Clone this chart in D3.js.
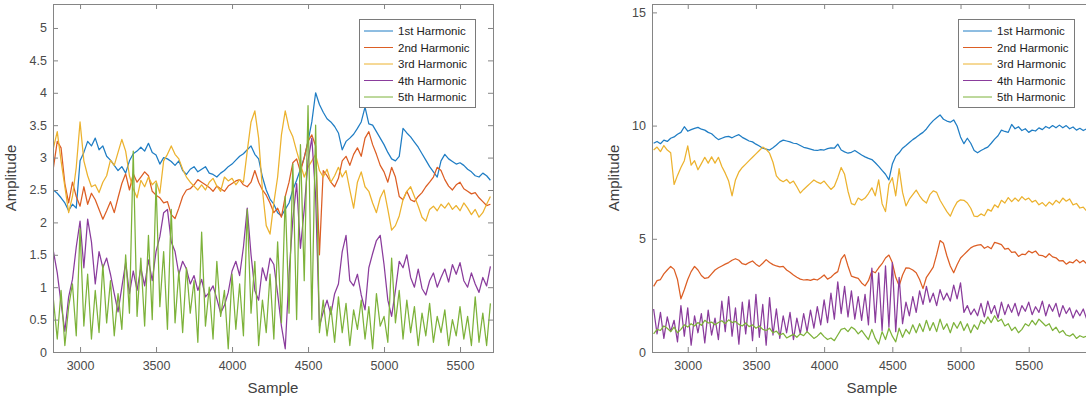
<!DOCTYPE html>
<html>
<head>
<meta charset="utf-8">
<script src="https://cdn.jsdelivr.net/npm/d3@7"></script>
<style>
  body { margin: 0; background: #fff; }
  svg { display: block; }
</style>
</head>
<body>
<div id="chart"></div>
<script>
const seriesNames = ["1st Harmonic", "2nd Harmonic", "3rd Harmonic", "4th Harmonic", "5th Harmonic"];
const seriesColors = ["#1f7dc4", "#dc5e24", "#ecb22e", "#8a3c9c", "#7db23a"];

// sample index, one value every 25 samples
const leftSamples = d3.range(2825, 5701, 25);
const rightSamples = d3.range(2750, 5951, 25);

const xTickValues = [3000, 3500, 4000, 4500, 5000, 5500];
const leftYTicks = [0, 0.5, 1, 1.5, 2, 2.5, 3, 3.5, 4, 4.5, 5];
const rightYTicks = [0, 5, 10, 15];

// left panel
const left1 = [
  2.50,2.45,2.38,2.30,2.18,2.28,2.22,2.95,
  3.08,3.25,3.18,3.30,3.12,3.18,3.02,2.96,
  2.88,2.80,2.86,2.76,2.95,3.06,3.10,3.16,
  3.10,3.22,3.08,3.04,2.90,3.00,2.98,2.94,
  2.88,2.95,2.80,2.74,2.82,2.86,2.78,2.82,
  2.86,2.76,2.74,2.70,2.76,2.80,2.86,2.90,
  2.96,3.02,3.06,3.12,3.18,3.05,2.98,2.70,
  2.50,2.36,2.28,2.15,2.10,2.20,2.30,2.50,
  2.65,2.82,3.00,3.25,3.55,4.00,3.82,3.70,
  3.60,3.55,3.48,3.38,3.12,3.25,3.30,3.36,
  3.45,3.55,3.78,3.52,3.50,3.40,3.30,3.20,
  3.08,2.98,2.95,3.02,3.45,3.38,3.32,3.24,
  3.16,3.06,2.96,2.86,2.78,2.70,2.95,3.05,
  2.98,2.94,2.90,2.92,2.88,2.82,2.78,2.72,
  2.70,2.76,2.72,2.65];
const left2 = [
  2.85,3.25,3.15,2.60,2.30,2.62,2.40,2.25,
  2.55,2.28,2.45,2.35,2.20,2.05,2.18,2.32,
  2.15,2.38,2.60,2.75,2.50,2.75,2.62,2.70,
  2.78,2.72,2.48,2.42,2.38,2.30,2.32,2.12,
  2.06,2.22,2.40,2.50,2.52,2.58,2.66,2.62,
  2.58,2.54,2.48,2.56,2.52,2.48,2.56,2.60,
  2.64,2.66,2.58,2.55,2.62,2.80,2.62,2.50,
  2.42,2.30,2.15,2.22,2.08,2.40,2.62,2.92,
  2.98,2.78,3.00,3.25,3.35,3.18,1.50,2.80,
  2.72,2.62,2.55,2.68,2.95,3.02,2.88,3.05,
  3.15,3.02,3.30,3.40,3.20,3.05,2.88,2.78,
  2.62,2.85,2.70,2.40,2.35,2.48,2.35,2.32,
  2.40,2.46,2.55,2.62,2.70,2.85,2.80,2.66,
  2.56,2.50,2.58,2.62,2.52,2.48,2.44,2.46,
  2.38,2.32,2.26,2.28];
const left3 = [
  3.15,3.40,2.95,2.55,2.15,2.40,2.85,3.55,
  2.95,2.72,2.55,2.58,2.46,2.62,2.72,2.96,
  2.88,3.08,3.28,3.10,2.72,2.52,2.38,2.65,
  2.55,2.70,2.58,2.64,2.45,2.95,3.05,3.18,
  3.05,2.98,2.82,2.70,2.62,2.56,2.50,2.58,
  2.50,2.62,2.68,2.56,2.48,2.70,2.64,2.68,
  2.58,2.66,2.62,3.10,3.55,3.72,3.30,2.50,
  1.95,1.82,2.30,2.70,3.35,3.72,3.45,3.32,
  3.10,2.90,2.70,2.85,2.95,3.05,2.80,2.70,
  2.82,2.62,2.72,2.85,2.70,2.80,2.50,2.22,
  2.62,2.78,2.55,2.48,2.30,2.15,2.38,2.50,
  2.20,1.88,1.95,2.10,2.35,2.48,2.55,2.40,
  2.25,2.08,2.02,2.20,2.25,2.18,2.28,2.22,
  2.30,2.20,2.26,2.18,2.30,2.22,2.12,2.20,
  2.08,2.15,2.28,2.40];
const left4 = [
  1.55,1.22,0.75,0.32,0.85,1.12,1.62,2.02,
  1.30,2.05,1.70,1.05,1.55,1.30,1.45,1.20,
  0.90,0.62,1.00,1.38,0.90,1.25,0.95,1.30,
  1.02,1.42,1.10,1.55,1.78,2.15,2.20,1.70,
  1.55,1.20,1.40,1.28,1.05,1.18,0.95,1.12,
  0.85,0.92,1.02,0.82,0.60,0.72,0.92,1.25,
  1.40,1.18,1.62,2.22,1.50,0.95,0.80,1.30,
  1.10,1.45,1.35,0.90,0.40,0.05,1.20,2.05,
  2.60,1.60,2.20,2.95,3.30,2.40,0.40,0.62,
  0.80,0.58,0.90,1.05,1.55,1.80,1.10,1.02,
  1.20,0.88,0.65,1.30,1.52,1.72,1.80,1.35,
  0.80,0.55,0.95,1.40,1.30,1.50,1.15,1.00,
  1.28,0.98,0.88,1.10,1.22,1.00,1.15,1.28,
  1.08,1.35,1.20,1.38,1.10,1.00,1.22,1.05,
  0.92,1.15,1.02,1.32];
const left5 = [
  0.80,0.20,0.95,0.10,0.70,1.05,0.25,1.90,
  0.40,1.20,0.20,0.95,0.30,1.35,0.45,1.10,
  0.25,0.90,0.35,1.50,0.60,3.10,0.55,1.45,
  0.40,1.80,0.50,2.60,0.70,1.55,0.35,2.20,
  0.45,1.25,0.30,1.30,0.60,1.10,0.15,1.85,
  0.40,1.00,0.20,1.40,0.55,0.95,0.05,1.20,
  0.35,1.05,0.25,2.20,0.60,1.40,0.10,0.80,
  0.30,1.20,0.20,1.70,0.45,2.40,0.60,2.90,
  0.50,3.20,1.10,3.80,0.50,3.50,0.30,0.80,
  0.25,0.70,0.15,0.85,0.30,0.75,0.10,0.65,
  0.35,0.80,0.20,0.70,0.05,0.90,0.40,0.55,
  0.15,1.45,0.45,0.95,0.20,0.80,0.30,0.70,
  0.10,0.60,0.25,0.75,0.15,0.55,0.30,0.65,
  0.10,0.50,0.25,0.70,0.20,0.55,0.10,0.85,
  0.15,0.60,0.10,0.75];

// right panel
const right1 = [
  9.22,9.30,9.20,9.36,9.30,9.44,9.50,9.62,
  9.70,9.95,9.75,9.82,9.88,9.92,9.84,9.80,
  9.70,9.64,9.50,9.38,9.44,9.50,9.52,9.46,
  9.54,9.60,9.48,9.40,9.32,9.28,9.18,9.10,
  9.00,8.96,8.92,9.02,9.14,9.28,9.36,9.32,
  9.28,9.22,9.20,9.12,9.04,9.00,8.96,8.92,
  8.90,8.94,8.92,8.98,9.02,9.00,9.18,8.92,
  8.84,8.78,8.82,8.90,8.80,8.70,8.62,8.55,
  8.50,8.36,8.20,8.02,7.85,7.60,8.30,8.65,
  8.80,9.00,9.12,9.25,9.38,9.48,9.60,9.70,
  9.85,10.05,10.22,10.35,10.47,10.28,10.20,10.15,
  10.25,9.98,9.50,9.20,9.44,9.22,8.90,8.80,
  8.90,8.98,9.05,9.22,9.40,9.55,9.80,9.74,
  9.70,10.05,9.86,9.95,9.78,9.86,9.70,9.80,
  9.76,9.90,9.82,9.96,9.88,10.00,9.90,10.02,
  9.90,10.00,9.86,9.94,9.80,9.88,9.78,9.86,
  9.82];
const right2 = [
  2.90,3.15,3.20,3.45,3.62,3.78,3.65,3.20,
  2.35,2.75,3.20,3.55,3.78,3.62,3.38,3.25,
  3.28,3.45,3.62,3.72,3.80,3.88,3.95,4.05,
  4.12,4.05,3.90,3.86,3.95,4.02,3.88,3.78,
  3.92,4.08,3.95,3.86,3.80,3.76,3.78,3.62,
  3.52,3.40,3.30,3.22,3.18,3.20,3.16,3.22,
  3.18,3.28,3.40,3.22,3.30,3.45,3.55,4.10,
  4.30,3.80,3.35,3.30,3.25,3.05,2.92,3.15,
  3.58,3.50,3.72,3.90,4.15,4.28,3.95,3.30,
  2.92,3.40,3.72,3.70,3.62,3.50,3.20,2.80,
  3.30,3.52,3.75,4.30,4.92,4.80,4.25,3.80,
  3.50,3.85,4.15,4.30,4.45,4.60,4.68,4.72,
  4.74,4.58,4.66,4.56,4.84,4.80,4.74,4.54,
  4.58,4.40,4.42,4.22,4.32,4.30,4.46,4.38,
  4.46,4.28,4.26,4.18,4.34,4.20,4.16,4.02,
  4.04,3.88,3.98,3.94,4.08,3.94,4.04,3.90,
  3.98];
const right3 = [
  8.92,9.05,8.85,9.12,8.92,8.80,7.40,7.80,
  8.15,8.45,9.10,8.25,8.45,8.05,8.32,8.60,
  8.34,8.62,8.34,8.60,8.19,7.90,7.55,6.90,
  7.60,7.95,8.15,8.30,8.45,8.60,8.75,8.90,
  9.05,8.95,8.78,8.38,7.78,7.60,7.52,7.62,
  7.45,7.55,7.30,7.02,7.18,7.32,7.46,7.60,
  7.50,7.44,7.55,7.36,7.18,7.32,7.70,8.15,
  7.85,7.10,6.55,6.50,6.80,6.70,6.80,7.00,
  7.25,6.90,7.60,6.55,6.20,7.40,7.70,6.90,
  8.10,7.05,6.45,6.75,6.95,7.15,6.90,6.70,
  6.58,6.95,7.12,7.05,6.70,6.45,6.20,6.00,
  6.35,6.62,6.72,6.70,6.58,6.35,6.00,5.98,
  6.10,6.02,6.30,6.22,6.50,6.38,6.70,6.58,
  6.82,6.64,6.80,6.66,6.86,6.72,6.80,6.62,
  6.70,6.50,6.60,6.44,6.62,6.50,6.70,6.58,
  6.80,6.66,6.76,6.50,6.56,6.36,6.40,6.22,
  6.25];
const right4 = [
  1.90,0.80,1.75,0.60,1.55,0.90,1.40,0.45,
  2.05,0.70,1.95,0.30,1.60,0.85,1.70,0.40,
  1.85,0.75,1.50,0.55,2.25,0.90,2.45,0.70,
  1.95,0.35,2.20,0.80,2.30,0.50,2.55,0.65,
  2.10,0.30,2.40,0.75,1.90,0.60,1.60,0.85,
  1.75,0.55,1.50,0.80,1.70,0.90,1.85,1.05,
  2.00,1.20,2.30,1.30,2.60,1.45,3.10,1.70,
  2.90,1.55,2.70,1.45,2.45,1.40,2.55,1.20,
  3.70,1.30,3.50,0.95,3.80,1.10,3.95,0.90,
  3.30,1.25,2.20,1.60,2.45,1.75,2.70,2.10,
  2.90,2.20,2.60,2.05,2.75,2.30,2.60,2.25,
  2.95,2.35,3.05,1.75,2.05,1.65,1.90,1.60,
  2.15,1.55,2.25,1.70,2.05,1.50,2.20,1.65,
  2.10,1.75,2.15,1.60,2.05,1.80,2.20,1.65,
  2.00,1.75,2.25,1.60,2.10,1.80,2.15,1.55,
  2.05,1.70,1.95,1.50,1.85,1.60,1.90,1.45,
  1.80];
const right5 = [
  0.80,1.00,0.95,1.15,1.05,0.90,1.10,0.85,
  1.00,1.20,1.10,1.25,1.15,1.30,1.18,1.40,
  1.28,1.32,1.20,1.30,1.38,1.25,1.42,1.30,
  1.35,1.22,1.15,1.28,1.12,1.20,1.05,1.15,
  1.00,0.95,1.05,0.85,0.92,0.75,0.82,0.62,
  0.70,0.78,0.65,0.80,0.72,0.90,0.75,0.60,
  0.70,0.85,0.68,0.55,0.62,0.50,0.75,1.00,
  1.05,0.90,1.10,1.00,0.80,0.95,0.75,0.55,
  1.00,0.60,0.35,0.90,0.55,1.05,0.70,0.45,
  1.05,0.65,1.00,0.80,1.20,0.85,1.25,0.90,
  1.40,0.95,1.30,0.90,1.45,1.00,1.25,0.85,
  1.30,1.05,1.35,0.95,1.25,0.85,1.20,1.00,
  1.40,1.25,1.55,1.30,1.60,1.35,1.45,1.15,
  1.25,0.95,1.10,0.85,1.00,1.25,1.15,1.40,
  1.20,1.45,1.30,1.15,1.25,0.95,1.10,0.85,
  0.95,0.75,0.70,0.80,0.60,0.72,0.65,0.70,
  0.62];

const fontFamily = '"Liberation Sans", Arial, Helvetica, sans-serif';
const axisColor = '#858585';

let panels = [
  { left: 53, top: 4, width: 440, height: 348,
    xDomain: [2822, 5717], yDomain: [0, 5.37],
    samples: leftSamples, series: [left1, left2, left3, left4, left5],
    yTicks: leftYTicks, legendX: 306, labelX: -37 },
  { left: 652, top: 4, width: 440, height: 348,
    xDomain: [2738, 5964], yDomain: [0, 15.37],
    samples: rightSamples, series: [right1, right2, right3, right4, right5],
    yTicks: rightYTicks, legendX: 306, labelX: -33 }
];

let svg = d3.select('#chart').append('svg')
  .attr('width', 1086).attr('height', 401)
  .style('background', '#fff');

panels.forEach(function(p, pi) {
  let g = svg.append('g').attr('transform', 'translate(' + p.left + ',' + p.top + ')');

  let x = d3.scaleLinear().domain(p.xDomain).range([0, p.width]);
  let y = d3.scaleLinear().domain(p.yDomain).range([p.height, 0]);

  g.append('clipPath').attr('id', 'clip' + pi)
    .append('rect').attr('width', p.width).attr('height', p.height);

  let line = d3.line()
    .x((d, i) => x(p.samples[i]))
    .y(d => y(d));

  p.series.forEach(function(s, si) {
    g.append('path')
      .attr('clip-path', 'url(#clip' + pi + ')')
      .attr('d', line(s))
      .attr('fill', 'none')
      .attr('stroke', seriesColors[si])
      .attr('stroke-width', 1.25)
      .attr('stroke-linejoin', 'round');
  });

  // ticks point inward, like matlab
  let bottom = g.append('g').attr('transform', 'translate(0,' + p.height + ')')
    .call(d3.axisBottom(x).tickValues(xTickValues).tickSizeInner(-5).tickSizeOuter(0)
      .tickPadding(9).tickFormat(d3.format('d')));
  let top = g.append('g')
    .call(d3.axisTop(x).tickValues(xTickValues).tickSizeInner(-5).tickSizeOuter(0).tickFormat(''));
  let leftAx = g.append('g')
    .call(d3.axisLeft(y).tickValues(p.yTicks).tickSizeInner(-5).tickSizeOuter(0)
      .tickPadding(6).tickFormat(d => String(d)));
  let rightAx = g.append('g').attr('transform', 'translate(' + p.width + ',0)')
    .call(d3.axisRight(y).tickValues(p.yTicks).tickSizeInner(-5).tickSizeOuter(0).tickFormat(''));

  [bottom, top, leftAx, rightAx].forEach(function(a) {
    a.select('.domain').remove();
    a.selectAll('.tick line').attr('stroke', axisColor);
    a.selectAll('.tick text')
      .attr('fill', '#4a4a4a')
      .attr('font-family', fontFamily)
      .attr('font-size', '12.5px');
  });

  g.append('rect')
    .attr('width', p.width).attr('height', p.height)
    .attr('fill', 'none').attr('stroke', axisColor).attr('stroke-width', 1)
    .attr('shape-rendering', 'crispEdges');

  // axis labels
  g.append('text')
    .attr('x', p.width / 2).attr('y', p.height + 41)
    .attr('text-anchor', 'middle')
    .attr('font-family', fontFamily).attr('font-size', '15px').attr('fill', '#404040')
    .text('Sample');
  g.append('text')
    .attr('transform', 'translate(' + p.labelX + ',' + (p.height / 2) + ') rotate(-90)')
    .attr('text-anchor', 'middle')
    .attr('font-family', fontFamily).attr('font-size', '15px').attr('fill', '#404040')
    .text('Amplitude');

  // legend
  let legend = g.append('g').attr('transform', 'translate(' + p.legendX + ',15)');
  legend.append('rect')
    .attr('width', 116).attr('height', 88)
    .attr('fill', '#fff').attr('stroke', '#7a7a7a').attr('stroke-width', 1)
    .attr('shape-rendering', 'crispEdges');
  let entries = legend.selectAll('g.entry')
    .data(seriesNames)
    .enter().append('g')
    .attr('transform', (d, i) => 'translate(0,' + (12 + i * 16.5) + ')');
  entries.append('line')
    .attr('x1', 5).attr('x2', 34).attr('y1', 0).attr('y2', 0)
    .attr('stroke', (d, i) => seriesColors[i]).attr('stroke-width', 1);
  entries.append('text')
    .attr('x', 39).attr('y', 0).attr('dy', '0.35em')
    .attr('font-family', fontFamily).attr('font-size', '11.5px').attr('fill', '#222')
    .text(d => d);
});
</script>
</body>
</html>
